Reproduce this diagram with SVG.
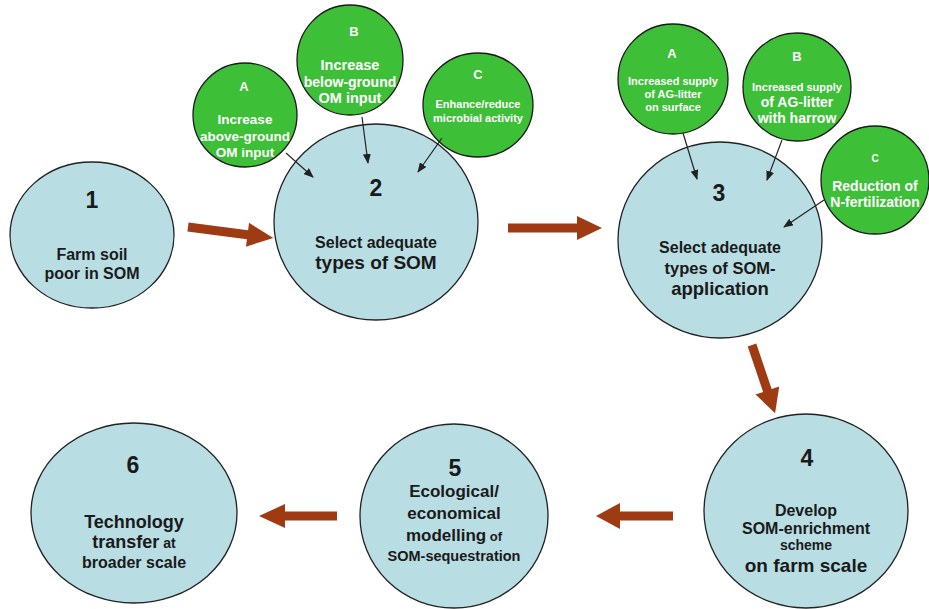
<svg xmlns="http://www.w3.org/2000/svg" width="929" height="609" viewBox="0 0 929 609">
<defs>
<style>
.blue{fill:#b8dde3;stroke:#222;stroke-width:1.3}
.green{fill:#3dbf38;stroke:#1a1a1a;stroke-width:1.3}
text{font-family:"Liberation Sans",Arial,sans-serif;font-weight:bold;text-anchor:middle}
.bt{fill:#1a1a1a}
.wt{fill:#ffffff}
.big{fill:#9e3b12}
.thin{stroke:#222;stroke-width:1.2;fill:none;marker-end:url(#ah)}
</style>
<marker id="ah" markerWidth="10" markerHeight="8" refX="9" refY="4" orient="auto" markerUnits="userSpaceOnUse">
<path d="M0,0 L10,4 L0,8 Z" fill="#222"/>
</marker>
</defs>
<rect width="929" height="609" fill="#ffffff"/>

<g id="node1">
<ellipse class="blue" cx="92" cy="235" rx="82" ry="73"/>
<text class="bt" x="92" y="208" font-size="23">1</text>
<text class="bt" x="92" y="260" font-size="16">Farm soil</text>
<text class="bt" x="92" y="279" font-size="16">poor in SOM</text>
</g>

<g id="node2">
<ellipse class="blue" cx="376" cy="222" rx="102" ry="98"/>
<text class="bt" x="376" y="196" font-size="23">2</text>
<text class="bt" x="376" y="248" font-size="16">Select adequate</text>
<text class="bt" x="376" y="269" font-size="19">types of SOM</text>
</g>

<g id="node3">
<ellipse class="blue" cx="720" cy="240" rx="102" ry="98"/>
<text class="bt" x="719" y="201" font-size="23">3</text>
<text class="bt" x="720" y="253" font-size="16">Select adequate</text>
<text class="bt" x="720" y="274" font-size="16.5">types of SOM-</text>
<text class="bt" x="720" y="295" font-size="18.5">application</text>
</g>

<g id="node4">
<ellipse class="blue" cx="806" cy="511" rx="102" ry="97"/>
<text class="bt" x="807" y="466" font-size="23">4</text>
<text class="bt" x="806" y="516" font-size="16">Develop</text>
<text class="bt" x="806" y="534" font-size="16">SOM-enrichment</text>
<text class="bt" x="806" y="550" font-size="14">scheme</text>
<text class="bt" x="806" y="572" font-size="19">on farm scale</text>
</g>

<g id="node5">
<ellipse class="blue" cx="454" cy="516" rx="94" ry="92"/>
<text class="bt" x="455" y="476" font-size="23">5</text>
<text class="bt" x="454" y="497" font-size="17">Ecological/</text>
<text class="bt" x="454" y="519" font-size="17">economical</text>
<text class="bt" x="454" y="541" font-size="17">modelling<tspan font-size="13"> of</tspan></text>
<text class="bt" x="454" y="561" font-size="14.5">SOM-sequestration</text>
</g>

<g id="node6">
<ellipse class="blue" cx="134" cy="513" rx="103" ry="90"/>
<text class="bt" x="133" y="473" font-size="23">6</text>
<text class="bt" x="134" y="528" font-size="18">Technology</text>
<text class="bt" x="134" y="548" font-size="18">transfer<tspan font-size="14"> at</tspan></text>
<text class="bt" x="134" y="568" font-size="16">broader scale</text>
</g>

<g id="node2A">
<circle class="green" cx="245" cy="115" r="52"/>
<text class="wt" x="244" y="91" font-size="13">A</text>
<text class="wt" x="245" y="124" font-size="13.5">Increase</text>
<text class="wt" x="245" y="141" font-size="13.5">above-ground</text>
<text class="wt" x="245" y="157" font-size="13.5">OM input</text>
</g>

<g id="node2B">
<ellipse class="green" cx="350" cy="60" rx="53" ry="55"/>
<text class="wt" x="354" y="36" font-size="13">B</text>
<text class="wt" x="350" y="70" font-size="14.5">Increase</text>
<text class="wt" x="350" y="87" font-size="14">below-ground</text>
<text class="wt" x="350" y="103" font-size="14.5">OM input</text>
</g>

<g id="node2C">
<ellipse class="green" cx="478" cy="105" rx="55" ry="52"/>
<text class="wt" x="478" y="79" font-size="13">C</text>
<text class="wt" x="478" y="108" font-size="11">Enhance/reduce</text>
<text class="wt" x="478" y="122" font-size="11">microbial activity</text>
</g>

<g id="node3A">
<circle class="green" cx="673" cy="79" r="55"/>
<text class="wt" x="672" y="58" font-size="13">A</text>
<text class="wt" x="673" y="85" font-size="11">Increased supply</text>
<text class="wt" x="673" y="98" font-size="11">of AG-litter</text>
<text class="wt" x="673" y="111" font-size="11">on surface</text>
</g>

<g id="node3B">
<circle class="green" cx="797" cy="87" r="54"/>
<text class="wt" x="797" y="61" font-size="13">B</text>
<text class="wt" x="797" y="91" font-size="11">Increased supply</text>
<text class="wt" x="797" y="107" font-size="14">of AG-litter</text>
<text class="wt" x="797" y="123" font-size="14">with harrow</text>
</g>

<g id="node3C">
<circle class="green" cx="875" cy="180" r="54"/>
<text class="wt" x="875" y="162" font-size="10">C</text>
<text class="wt" x="875" y="191" font-size="14">Reduction of</text>
<text class="wt" x="875" y="207" font-size="14">N-fertilization</text>
</g>

<g id="connectors">
<path class="big" d="M0,-4.5 L60,-4.5 L60,-12 L86,0 L60,12 L60,4.5 L0,4.5 Z" transform="translate(188,227) rotate(7.4)"/>
<path class="big" d="M0,-4.5 L69,-4.5 L69,-12 L94,0 L69,12 L69,4.5 L0,4.5 Z" transform="translate(508,228)"/>
<path class="big" d="M0,-4.5 L48,-4.5 L48,-12.5 L72,0 L48,12.5 L48,4.5 L0,4.5 Z" transform="translate(752,345) rotate(71.3)"/>
<path class="big" d="M0,-4.5 L53,-4.5 L53,-13 L77,0 L53,13 L53,4.5 L0,4.5 Z" transform="translate(673,516) rotate(180)"/>
<path class="big" d="M0,-4.5 L52,-4.5 L52,-12 L78,0 L52,12 L52,4.5 L0,4.5 Z" transform="translate(337,516) rotate(180)"/>
<line class="thin" x1="286" y1="153" x2="313" y2="177"/>
<line class="thin" x1="362" y1="117" x2="368" y2="163"/>
<line class="thin" x1="442" y1="138" x2="418" y2="172"/>
<line class="thin" x1="683" y1="133" x2="697" y2="179"/>
<line class="thin" x1="782" y1="140" x2="767" y2="180"/>
<line class="thin" x1="824" y1="200" x2="784" y2="227"/>
</g>
</svg>
